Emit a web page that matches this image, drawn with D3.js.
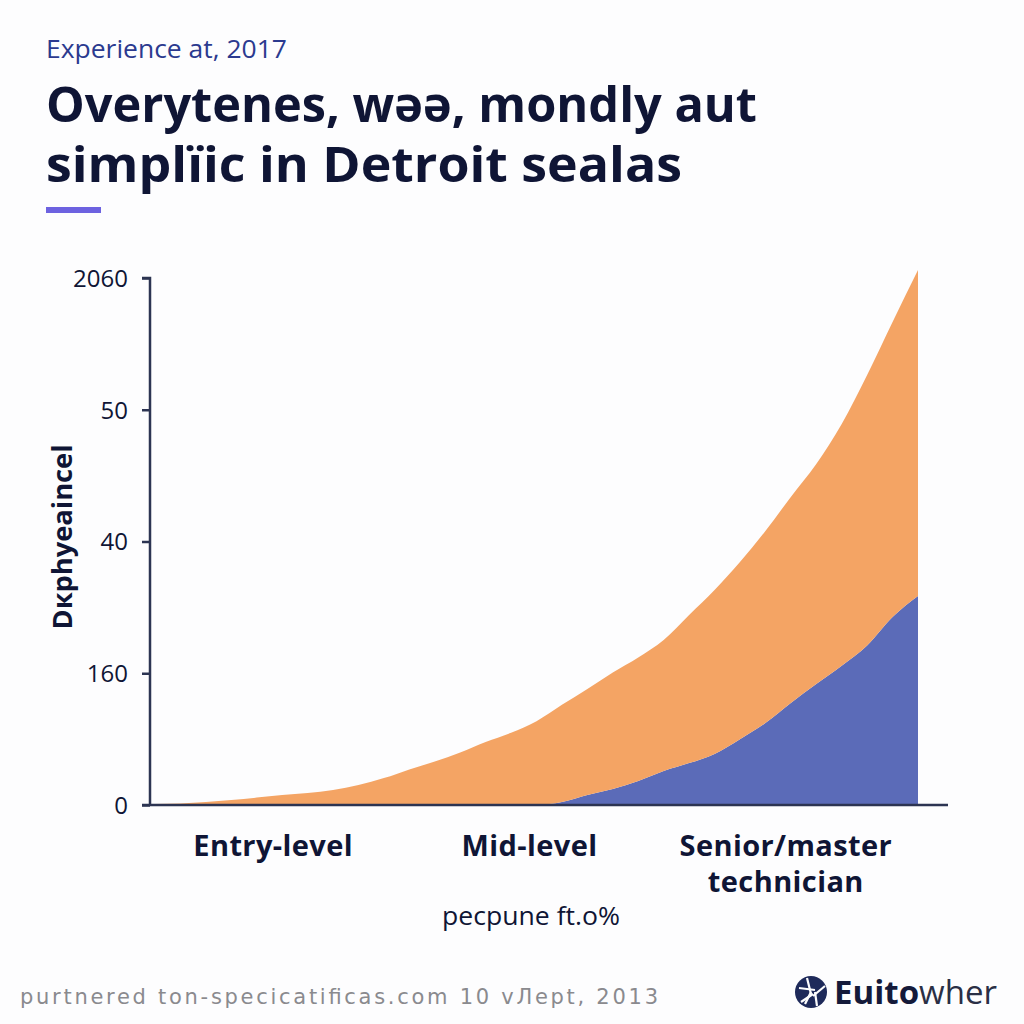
<!DOCTYPE html>
<html>
<head>
<meta charset="utf-8">
<script src="https://cdn.jsdelivr.net/npm/d3@7"></script>
<style>
  html, body { margin: 0; padding: 0; background: #fdfdfe; }
  svg { display: block; }
</style>
</head>
<body>
<svg id="chart" width="1024" height="1024"></svg>
<script>
// ---- data ----
const categories = ["Entry-level", "Mid-level", "Senior/master technician"];
const xSteps = [0,0.1,0.2,0.3,0.4,0.5,0.6,0.7,0.8,0.9,1.0,1.1,1.2,1.3,1.4,1.5,1.6,1.7,1.8,1.9,2.0,2.1,2.2,2.3,2.4,2.5,2.6,2.7,2.8,2.9,3.0];
const blueValues = [0,0,0,0,0,0,0,0,0,0,0,0,0,0,0,0,1.1,3.8,6.1,9.1,12.9,15.9,19.4,25.0,31.1,38.7,45.9,52.8,60.5,71.3,79.3];
const totalValues = [0.4,0.6,1.1,1.9,2.8,3.8,4.6,5.7,7.6,10.2,13.5,16.5,19.9,23.9,27.4,31.8,38.0,44.0,50.3,56.0,62.6,72.1,81.6,92.2,104.0,116.9,129.4,144.6,163.2,183.3,203.0];
const orangeValues = totalValues.map((t, i) => +(t - blueValues[i]).toFixed(1));
const yTickValues = [0, 50, 100, 150, 200];
const yTickLabels = ["0", "160", "40", "50", "2060"];
const seriesKeys = ["blue", "orange"];
const seriesColors = { blue: "#5B6BB8", orange: "#F4A464" };

const rows = xSteps.map((x, i) => ({ x, blue: blueValues[i], orange: orangeValues[i] }));

// ---- layout ----
const svg = d3.select("#chart");
const ink = "#0f1535";
const axisColor = "#2c3452";
const plotLeft = 150, plotRight = 948, plotTop = 278, plotBottom = 805;
const areaLeft = 155, areaRight = 918;

svg.append("rect").attr("width", 1024).attr("height", 1024).attr("fill", "#fdfdfe");

// header
svg.append("text").attr("x", 46).attr("y", 58)
  .attr("font-family", "'Open Sans', sans-serif").attr("font-size", 25)
  .attr("fill", "#2b3a8f").attr("textLength", 241).attr("lengthAdjust", "spacingAndGlyphs")
  .text("Experience at, 2017");

const title = svg.append("g").attr("font-family", "'Open Sans', sans-serif")
  .attr("font-weight", 700).attr("font-size", 48).attr("fill", ink);
title.append("text").attr("x", 46).attr("y", 122)
  .attr("textLength", 711).attr("lengthAdjust", "spacingAndGlyphs")
  .text("Overytenes, wəə, mondly aut");
title.append("text").attr("x", 46).attr("y", 182)
  .attr("textLength", 636).attr("lengthAdjust", "spacingAndGlyphs")
  .text("simplïic in Detroit sealas");

svg.append("rect").attr("x", 46).attr("y", 207).attr("width", 55).attr("height", 6).attr("fill", "#6d62e0");

// scales
const x = d3.scaleLinear().domain([0, 3]).range([areaLeft, areaRight]);
const xBand = d3.scaleBand().domain(categories).range([areaLeft - 10, areaRight - 4]);
const y = d3.scaleLinear().domain([0, 200]).range([plotBottom, plotTop]);

// stacked areas
const stack = d3.stack().keys(seriesKeys);
const layers = stack(rows);
const area = d3.area()
  .x(d => x(d.data.x))
  .y0(d => y(d[0]))
  .y1(d => y(d[1]))
  .curve(d3.curveMonotoneX);

svg.append("g").selectAll("path").data(layers).join("path")
  .attr("d", area)
  .attr("fill", d => seriesColors[d.key]);

// y axis
const yAxis = d3.axisLeft(y).tickValues(yTickValues)
  .tickFormat((d, i) => yTickLabels[i]).tickSize(8).tickSizeOuter(0).tickPadding(14);
const gy = svg.append("g").attr("transform", `translate(${plotLeft},0)`).call(yAxis);
gy.select(".domain").attr("stroke", axisColor).attr("stroke-width", 2.5)
  .attr("d", `M-8,${plotTop}H0V${plotBottom}`);
gy.selectAll(".tick line").attr("stroke", axisColor).attr("stroke-width", 2.5);
gy.selectAll(".tick text").attr("font-family", "'Open Sans', sans-serif")
  .attr("font-size", 24).attr("fill", ink).attr("dy", "0.35em");

// x axis baseline
svg.append("line").attr("x1", plotLeft - 8).attr("x2", plotRight)
  .attr("y1", plotBottom).attr("y2", plotBottom)
  .attr("stroke", axisColor).attr("stroke-width", 2.5);

// x category labels
const xl = svg.append("g").attr("font-family", "'Open Sans', sans-serif")
  .attr("font-weight", 700).attr("font-size", 29).attr("fill", ink)
  .attr("text-anchor", "middle").attr("letter-spacing", 0.4);
categories.forEach(c => {
  const cx = xBand(c) + xBand.bandwidth() / 2;
  const words = c === "Senior/master technician" ? ["Senior/master", "technician"] : [c];
  words.forEach((w, j) => {
    xl.append("text").attr("x", cx).attr("y", 856 + j * 36).text(w);
  });
});

// axis titles
svg.append("text").attr("transform", "translate(72,537) rotate(-90)")
  .attr("text-anchor", "middle").attr("font-family", "'Open Sans', sans-serif")
  .attr("font-weight", 700).attr("font-size", 26).attr("fill", ink)
  .attr("textLength", 185).attr("lengthAdjust", "spacingAndGlyphs")
  .text("Dкрhyeaincel");

svg.append("text").attr("x", 531).attr("y", 925).attr("text-anchor", "middle")
  .attr("font-family", "'Open Sans', sans-serif").attr("font-size", 26).attr("fill", ink)
  .attr("textLength", 178).attr("lengthAdjust", "spacingAndGlyphs")
  .text("pecpune ft.o%");

// footer
svg.append("text").attr("x", 20).attr("y", 1004)
  .attr("font-family", "'DejaVu Sans', sans-serif").attr("font-size", 21).attr("fill", "#8a8a8e")
  .attr("textLength", 638).attr("lengthAdjust", "spacing")
  .text("purtnered ton-specicatificas.com 10 vЛept, 2013");

// logo
const logo = svg.append("g").attr("transform", "translate(811,992)");
logo.append("circle").attr("r", 16).attr("fill", "#1e2a5a");
[[-12,-4,4,-2],[-4,-14,0,2],[14,-6,2,4],[-10,10,2,2],[6,14,4,0],[0,0,-6,12]].forEach(p => {
  logo.append("line").attr("x1", p[0]).attr("y1", p[1]).attr("x2", p[2]).attr("y2", p[3])
    .attr("stroke", "#fdfdfe").attr("stroke-width", 2.2);
});
const lt = svg.append("text").attr("x", 834).attr("y", 1004)
  .attr("font-family", "'Open Sans', sans-serif").attr("font-size", 32).attr("fill", "#141a3a")
  .attr("textLength", 163).attr("lengthAdjust", "spacingAndGlyphs");
lt.append("tspan").attr("font-weight", 700).text("Euito");
lt.append("tspan").attr("font-weight", 400).attr("fill", "#2a2f45").text("wher");
</script>
</body>
</html>
